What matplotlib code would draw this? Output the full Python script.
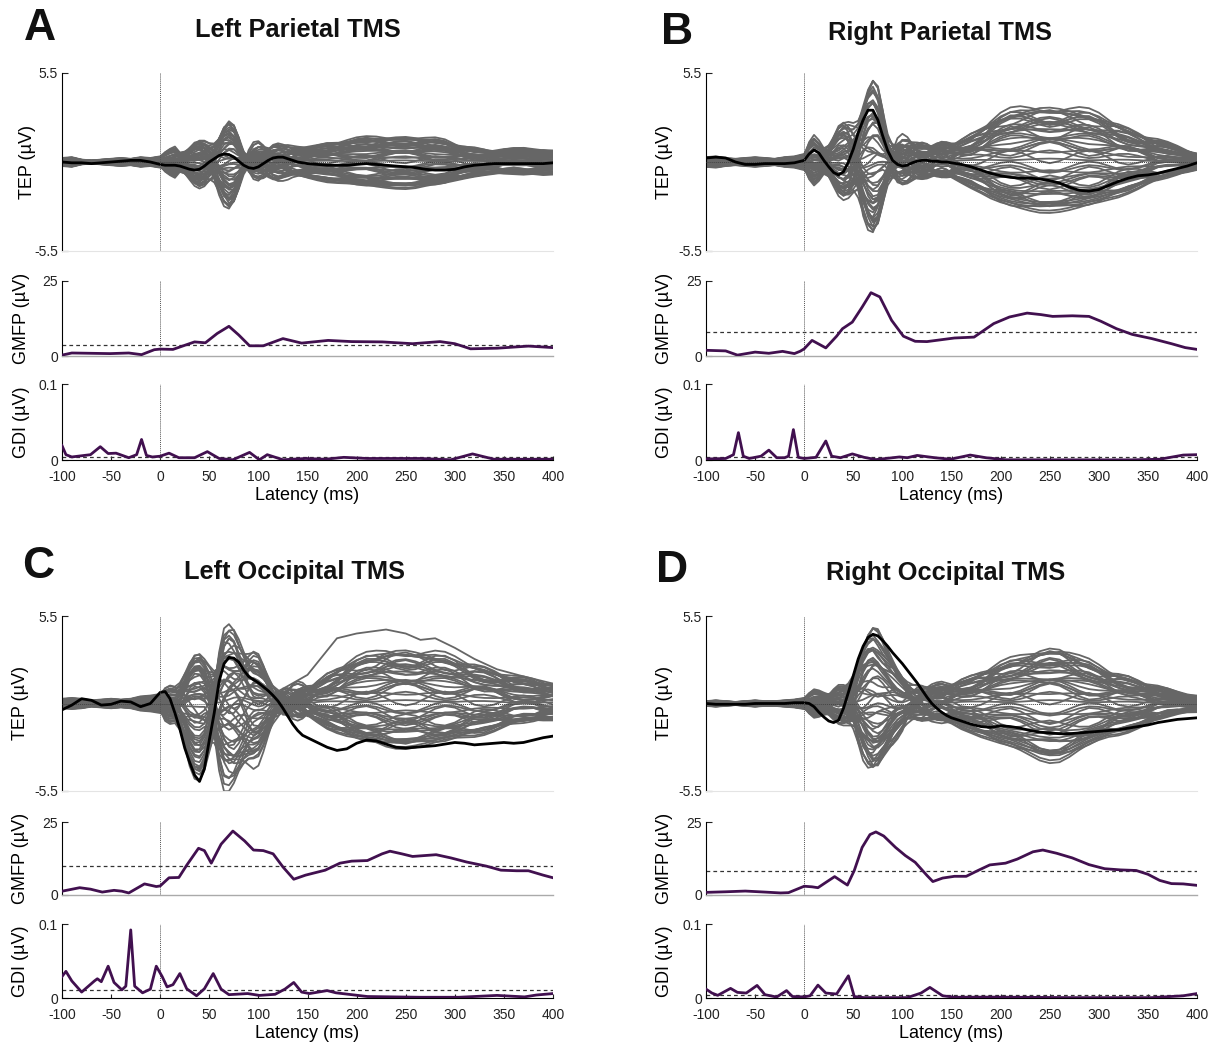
import numpy as np
import matplotlib
matplotlib.use("Agg")
import matplotlib.pyplot as plt

plt.rcParams['font.family'] = ['Liberation Sans', 'DejaVu Sans']

# ---------------- latency sampling of the TEP waveforms (ms) ----------------
LAT = np.r_[-100:1:10, 5:151:5, 160:401:10]   # 11 + 30 + 25 = 66 samples
XTICKS = [-100, -50, 0, 50, 100, 150, 200, 250, 300, 350, 400]
TITLES = ["Left Parietal TMS", "Right Parietal TMS", "Left Occipital TMS", "Right Occipital TMS"]
LETTERS = ["A", "B", "C", "D"]

# ---------------- spatial weights of the 56 butterfly channels ----------------
W_E1 = [1.0, 0.8, 0.6, 0.9, 0.4, 0.7, 0.2, 0.5, 0.3, -0.1, 0.15, -0.3, 0.25, -0.4, 0.35, 0.05, -0.2, -0.5,
        0.45, -0.6, -0.15, -0.7, 0.1, -0.8, -0.35, -0.9, -0.55, -1.0, -0.65, -0.85, 0.55, -0.45, 0.65, -0.25, 0.75, -0.05,
        0.85, -0.75, 0.95, -0.9, 0.5, -0.6, 0.7, -0.3, 0.2, -0.85, 0.9, -0.45, 0.6, -0.7, 0.35, -0.95, 0.75, -0.2, 0.1, -0.5]
W_E2 = [0.9, 1.0, 0.75, 0.5, 0.6, 0.35, 0.85, 0.2, 0.45, 0.3, 0.1, 0.55, -0.2, 0.15, -0.4, -0.05, -0.3, 0.4,
        -0.6, -0.15, -0.5, -0.35, -0.7, -0.55, -0.8, -0.25, -0.9, -0.7, -1.0, -0.45, 0.05, 0.7, -0.85, 0.25, -0.1, -0.95,
        -0.7, 0.8, 0.6, -0.65, 0.95, -0.85, -0.3, 0.9, -0.75, 0.5, 0.2, 0.85, -0.95, 0.65, -0.5, 0.45, 0.8, -0.6, 0.7, -0.8]
W_L = [0.6, 0.9, 1.0, 0.3, 0.8, 0.7, 0.45, 0.55, 0.25, 0.65, 0.4, 0.2, 0.35, 0.5, 0.1, 0.15, -0.1, -0.2,
       -0.3, -0.4, -0.15, 0.05, -0.5, -0.35, -0.6, -0.7, -0.45, -0.8, -0.9, -1.0, -0.55, -0.25, 0.3, 0.85, -0.65, 0.6,
       0.95, -0.85, -0.75, 0.9, -0.6, 0.8, -0.95, 0.75, 0.85, -0.7, 0.45, -0.9, 0.7, 0.95, -0.8, 0.9, -0.4, 0.65, -0.85, 0.75]
W_R = [0.3, -0.2, 0.5, -0.6, 0.8, -0.4, 0.1, 1.0, -0.9, 0.6, -0.3, 0.2, -0.7, 0.4, 0.9, -0.5, 0.7, -0.2,
       0.3, -0.8, 0.5, -0.1, -0.4, 0.6, 0.0, -0.6, 0.8, 0.2, -0.3, 0.4, -1.0, 0.9, -0.6, -0.9, 0.1, -0.1,
       -0.5, 0.3, 0.7, -0.2, -0.8, 0.6, 0.4, -0.7, 0.9, -0.4, 0.5, 0.1, -0.9, 0.2, 0.8, -0.3, 0.6, -0.5, 0.0, 0.7]

# ---------------- Panel A : Left parietal ----------------
A_BLACK = [0.0, -0.05, -0.05, -0.1, -0.05, 0.0, 0.05, 0.1, 0.1, 0.0, -0.15] + \
    [-0.2, -0.2, -0.2, -0.25, -0.35, -0.45, -0.5, -0.45, -0.25, 0.0, 0.2, 0.4, 0.5, 0.45, 0.3, 0.05, -0.2, -0.35, -0.4, -0.3,
     -0.1, 0.1, 0.25, 0.3, 0.3, 0.2, 0.1, 0.0, -0.05, -0.1] + \
    [-0.15, -0.2, -0.2, -0.2, -0.15, -0.1, -0.15, -0.2, -0.25, -0.3, -0.35, -0.45, -0.5, -0.5, -0.45, -0.3, -0.2, -0.15,
     -0.1, -0.1, -0.1, -0.1, -0.1, -0.1, -0.05]
A_E1 = [0] * 11 + [0.3, 0.45, 0.6, 0.4, 0.6, 0.9, 1.2, 1.35, 1.2, 0.8, 0.3, -0.1, -0.3, -0.3, -0.15, 0.0, 0.1, 0.15, 0.1, 0.0] + [0] * 10 + [0] * 25
A_E2 = [0] * 11 + [0] * 8 + [0.1, 0.3, 0.8, 1.6, 2.3, 2.6, 2.3, 1.5, 0.5, -0.2, -0.5, -0.5, -0.3, 0.0, 0.3, 0.45, 0.45, 0.3,
                             0.1, 0.0, -0.05, -0.05] + [0] * 25
A_L = [0] * 11 + [0] * 16 + [0.1, 0.3, 0.5, 0.7, 0.8, 0.85, 0.8, 0.75, 0.7, 0.75, 0.8, 0.85, 0.9, 0.95] + \
    [1.0, 1.1, 1.2, 1.3, 1.4, 1.45, 1.5, 1.5, 1.5, 1.5, 1.5, 1.45, 1.4, 1.3, 1.1, 0.9, 0.75, 0.7, 0.7, 0.7, 0.7, 0.75, 0.75, 0.75, 0.7]
A_R = [0.25, 0.3, 0.15, 0.1, 0.15, 0.2, 0.25, 0.2, 0.3, 0.25, 0.35] + \
    [0.45, 0.55, 0.55, 0.3, 0.1, -0.1, -0.2, -0.1, 0.1, 0.3, 0.4, 0.3, 0.1, -0.1, -0.2, -0.1, 0.1, 0.3, 0.4, 0.3, 0.1, -0.1,
     -0.2, -0.15, 0.0, 0.15, 0.25, 0.2, 0.1, 0.0] + \
    [-0.2, -0.25, -0.1, 0.1, 0.25, 0.3, 0.15, -0.05, -0.2, -0.25, -0.1, 0.1, 0.25, 0.2, 0.0, -0.2, -0.3, -0.2, 0.0, 0.2, 0.3,
     0.25, 0.1, -0.05, -0.1]
A_NEG = [1.2, 1.13, 1.05, 1.0]

A_GMFP_T = [-100, -90, -51, -32, -19, -6, 0, 13, 35, 46, 58, 70, 80, 91, 105, 125, 144, 171, 195, 226, 257, 285, 300, 316, 343, 375, 400]
A_GMFP = [0.3, 1.0, 0.8, 1.0, 0.45, 2.1, 2.3, 2.2, 4.7, 4.4, 7.5, 9.9, 7.0, 3.4, 3.4, 5.8, 4.3, 5.2, 4.8, 4.7, 4.1, 4.8, 4.1, 2.4, 2.6, 3.3, 2.8]
A_GMFP_THR = 3.8
A_GDI_T = [-100, -96, -90, -71, -61, -53, -45, -32, -24, -19, -14, -8, 0, 9, 19, 35, 48, 60, 74, 91, 101, 109, 125, 148,
           168, 187, 211, 265, 296, 318, 340, 400]
A_GDI = [0.019, 0.007, 0.004, 0.007, 0.0175, 0.0085, 0.009, 0.003, 0.007, 0.027, 0.006, 0.004, 0.005, 0.009, 0.003, 0.003,
         0.011, 0.002, 0.0003, 0.010, 0.0003, 0.007, 0.0003, 0.002, 0.001, 0.0035, 0.002, 0.002, 0.0003, 0.008, 0.001, 0.001]
A_GDI_THR = 0.004

# ---------------- Panel B : Right parietal ----------------
B_BLACK = [0.25, 0.3, 0.25, 0.0, -0.15, -0.15, -0.1, -0.1, -0.1, -0.05, 0.1] + \
    [0.5, 0.75, 0.55, 0.1, -0.3, -0.65, -0.8, -0.6, 0.0, 0.8, 1.8, 2.6, 3.2, 3.2, 2.6, 1.6, 0.7, 0.1, -0.15, -0.25,
     -0.2, -0.05, 0.05, 0.1, 0.1, 0.05, 0.05, 0.0, 0.0, -0.05] + \
    [-0.15, -0.3, -0.5, -0.7, -0.85, -0.95, -1.0, -1.0, -1.05, -1.15, -1.3, -1.55, -1.75, -1.8, -1.7, -1.45, -1.2, -1.0,
     -0.85, -0.8, -0.7, -0.55, -0.4, -0.25, -0.05]
B_E1 = [0] * 11 + [0.7, 1.1, 0.9, 0.6, 1.0, 1.6, 2.2, 2.5, 2.3, 1.6, 0.6, -0.1, -0.4, -0.4, -0.2, 0.0, 0.3, 0.5, 0.45, 0.3,
                   0.1, 0.0] + [0] * 8 + [0] * 25
B_E2 = [0] * 11 + [0] * 8 + [0.2, 0.8, 2.0, 3.6, 4.8, 5.3, 4.7, 3.1, 1.3, 0.2, -0.4, -0.6, -0.5, -0.3, -0.1, 0.0] + [0] * 6 + [0] * 25
B_L = [0] * 11 + [0] * 16 + [0.2, 0.5, 0.8, 1.0, 1.1, 1.1, 1.05, 1.0, 1.0, 1.0, 1.0, 1.0, 1.05, 1.1] + \
    [1.3, 1.6, 2.0, 2.5, 2.9, 3.15, 3.3, 3.35, 3.35, 3.3, 3.3, 3.3, 3.25, 3.1, 2.9, 2.6, 2.3, 2.0, 1.75, 1.5, 1.3, 1.1, 0.9, 0.7, 0.5]
B_R = [0.3, 0.35, 0.25, 0.2, 0.25, 0.3, 0.25, 0.2, 0.3, 0.35, 0.5] + \
    [0.8, 0.9, 0.7, 0.4, 0.1, -0.2, -0.4, -0.3, 0.0, 0.3, 0.5, 0.4, 0.1, -0.2, -0.4, -0.3, 0.0, 0.3, 0.5, 0.5, 0.3, 0.0, -0.3,
     -0.4, -0.3, 0.0, 0.3, 0.45, 0.35, 0.1] + \
    [-0.3, -0.45, -0.3, 0.0, 0.3, 0.45, 0.3, 0.0, -0.3, -0.45, -0.3, 0.0, 0.3, 0.45, 0.3, 0.0, -0.3, -0.4, -0.25, 0.0, 0.25,
     0.3, 0.2, 0.0, -0.1]
B_NEG = [0.92, 0.85, 0.9, 1.0]

B_GMFP_T = [-100, -80, -68, -50, -36, -22, -10, -4, 0, 8, 22, 33, 39, 49, 59, 68, 77, 89, 101, 113, 125, 153, 173, 193,
            209, 227, 241, 253, 273, 290, 302, 318, 334, 354, 374, 388, 400]
B_GMFP = [1.9, 1.7, 0.3, 1.3, 0.9, 1.55, 0.8, 1.6, 2.4, 5.2, 2.7, 6.6, 9.1, 11.3, 16.3, 21.1, 19.7, 11.9, 6.6, 4.9, 4.8,
          6.0, 6.3, 10.8, 13.0, 14.3, 13.8, 13.2, 13.4, 13.2, 11.6, 9.1, 7.2, 5.8, 4.1, 2.8, 2.2]
B_GMFP_THR = 8.0
B_GDI_T = [-100, -80, -72, -67, -62, -56, -44, -36, -28, -20, -16, -11, -6, 0, 12, 22, 28, 37, 49, 61, 73, 97, 105, 115,
           133, 149, 169, 185, 205, 273, 334, 362, 386, 400]
B_GDI = [0.0013, 0.002, 0.007, 0.036, 0.005, 0.002, 0.005, 0.013, 0.003, 0.003, 0.005, 0.040, 0.0035, 0.002, 0.0035,
         0.025, 0.005, 0.003, 0.008, 0.0035, 0.0005, 0.004, 0.003, 0.006, 0.003, 0.001, 0.0065, 0.003, 0.0003, 0.0002,
         0.0002, 0.001, 0.0065, 0.007]
B_GDI_THR = 0.004

# ---------------- Panel C : Left occipital ----------------
C_BLACK = [-0.4, -0.1, 0.3, 0.2, -0.1, -0.05, 0.15, 0.1, -0.2, 0.0, 0.7] + \
    [0.75, 0.3, -0.6, -1.6, -2.8, -3.7, -4.5, -4.9, -4.1, -2.3, -0.6, 1.4, 2.5, 2.9, 2.85, 2.6, 2.1, 1.7, 1.5, 1.3,
     1.05, 0.8, 0.5, 0.15, -0.3, -0.8, -1.3, -1.7, -2.0, -2.15] + \
    [-2.45, -2.75, -2.95, -2.85, -2.5, -2.3, -2.35, -2.55, -2.75, -2.8, -2.75, -2.7, -2.65, -2.55, -2.45, -2.5, -2.6,
     -2.55, -2.5, -2.45, -2.5, -2.45, -2.3, -2.15, -2.05]
C_E1 = [0] * 11 + [0.5, 0.6, 0.6, 1.0, 1.8, 2.6, 3.1, 3.2, 2.8, 1.8, 0.5, -0.6, -1.3, -1.5, -1.3, -0.8, -0.3, 0.2, 0.5,
                   0.5, 0.3, 0.1, 0.0] + [0] * 7 + [0] * 25
C_E2 = [0] * 11 + [0] * 9 + [0.5, 1.5, 3.0, 4.0, 4.2, 4.1, 3.7, 3.3, 3.0, 2.9, 2.7, 2.2, 1.6, 0.9, 0.3, -0.2, -0.4, -0.4,
                             -0.3, -0.15, 0.0] + [0] * 25
C_L = [0] * 11 + [0] * 22 + [0.1, 0.3, 0.5, 0.6, 0.7, 0.8, 0.9, 1.0] + \
    [1.3, 1.7, 2.1, 2.5, 2.8, 3.0, 3.15, 3.3, 3.3, 3.25, 3.2, 3.2, 3.15, 3.0, 2.8, 2.6, 2.4, 2.2, 2.0, 1.8, 1.6, 1.5, 1.4, 1.3, 1.2]
C_R = [0.3, 0.35, 0.3, 0.2, 0.25, 0.3, 0.25, 0.3, 0.45, 0.5, 0.6] + \
    [0.7, 0.8, 0.7, 0.5, 0.2, -0.2, -0.4, -0.3, 0.0, 0.4, 0.6, 0.5, 0.2, -0.2, -0.5, -0.5, -0.2, 0.2, 0.5, 0.6, 0.4, 0.0,
     -0.3, -0.5, -0.4, -0.1, 0.3, 0.5, 0.45, 0.2] + \
    [-0.3, -0.5, -0.35, 0.0, 0.35, 0.5, 0.35, 0.0, -0.35, -0.5, -0.35, 0.0, 0.35, 0.5, 0.35, 0.0, -0.35, -0.45, -0.3, 0.0,
     0.3, 0.4, 0.3, 0.0, -0.2]
C_NEG = [1.5, 1.2, 0.82, 1.0]
C_OUT_T = [-100, -60, -20, 0, 10, 25, 40, 55, 70, 85, 100, 115, 130, 150, 180, 200, 230, 250, 265, 280, 300, 320, 343, 367, 400]
C_OUT = [0.2, 0.1, 0.3, 0.4, 0.6, 0.5, -0.8, -1.5, 1.0, 2.0, 1.2, 0.6, 1.1, 1.8, 4.1, 4.4, 4.65, 4.4, 4.0, 4.1, 3.5, 2.8,
         2.15, 1.75, 1.25]

C_GMFP_T = [-100, -82, -71, -59, -47, -39, -32, -16, -4, 0, 9, 19, 27, 39, 45, 52, 62, 74, 86, 95, 105, 115, 125, 136,
            148, 168, 183, 195, 211, 226, 234, 246, 257, 269, 281, 296, 312, 332, 347, 363, 375, 390, 400]
C_GMFP = [1.3, 2.5, 2.0, 1.0, 1.6, 1.3, 0.7, 3.8, 2.9, 3.1, 5.9, 6.0, 10.2, 16.0, 15.2, 10.9, 17.4, 21.9, 18.5, 15.4,
          15.2, 14.1, 9.6, 5.4, 6.8, 8.5, 10.9, 11.6, 11.8, 14.1, 15.0, 14.1, 13.2, 13.5, 13.8, 12.7, 11.3, 9.9, 8.5, 8.3,
          8.3, 6.8, 5.9]
C_GMFP_THR = 9.9
C_GDI_T = [-100, -96, -90, -80, -67, -64, -60, -53, -47, -39, -35, -30, -26, -18, -10, -4, 2, 7, 13, 20, 27, 37, 45, 54,
           62, 70, 89, 101, 117, 127, 136, 144, 152, 170, 179, 195, 211, 265, 304, 343, 371, 383, 400]
C_GDI = [0.029, 0.036, 0.023, 0.008, 0.023, 0.026, 0.022, 0.043, 0.021, 0.011, 0.016, 0.092, 0.016, 0.007, 0.012, 0.043,
         0.029, 0.015, 0.018, 0.033, 0.0125, 0.003, 0.0125, 0.033, 0.012, 0.0045, 0.006, 0.0035, 0.005, 0.012, 0.021,
         0.008, 0.006, 0.010, 0.007, 0.0045, 0.002, 0.001, 0.001, 0.0035, 0.0015, 0.004, 0.006]
C_GDI_THR = 0.011

# ---------------- Panel D : Right occipital ----------------
D_BLACK = [0.0, -0.05, -0.05, -0.05, -0.05, 0.0, 0.0, 0.0, 0.0, 0.05, 0.05] + \
    [0.0, -0.2, -0.55, -0.85, -1.1, -1.2, -1.05, -0.3, 0.7, 1.75, 2.8, 3.6, 4.15, 4.35, 4.25, 3.95, 3.6, 3.2, 2.85, 2.5,
     2.1, 1.7, 1.3, 0.85, 0.4, 0.0, -0.3, -0.55, -0.75, -0.9] + \
    [-1.1, -1.3, -1.45, -1.5, -1.4, -1.45, -1.55, -1.7, -1.8, -1.85, -1.9, -1.9, -1.85, -1.8, -1.75, -1.7, -1.65, -1.55,
     -1.45, -1.35, -1.2, -1.1, -1.0, -0.95, -0.9]
D_E1 = [0] * 11 + [0.3, 0.5, 0.5, 0.5, 0.6, 0.8, 1.0, 1.1, 1.0, 0.6, 0.1, -0.3, -0.4, -0.3, -0.1, 0.0] + [0] * 14 + [0] * 25
D_E2 = [0] * 11 + [0] * 8 + [0.3, 1.2, 2.6, 3.8, 4.6, 4.9, 4.6, 4.0, 3.4, 2.8, 2.2, 1.7, 1.2, 0.8, 0.5, 0.3, 0.2, 0.15,
                             0.1, 0.1, 0.05, 0.0] + [0] * 25
D_L = [0] * 11 + [0] * 20 + [0.2, 0.4, 0.6, 0.8, 0.9, 1.0, 1.05, 1.1, 1.15, 1.2] + \
    [1.4, 1.6, 1.9, 2.2, 2.5, 2.7, 2.9, 3.1, 3.3, 3.4, 3.4, 3.2, 2.9, 2.6, 2.3, 2.0, 1.8, 1.6, 1.4, 1.2, 1.0, 0.8, 0.65, 0.55, 0.5]
D_R = [0.15, 0.2, 0.15, 0.1, 0.15, 0.2, 0.15, 0.15, 0.2, 0.25, 0.35] + \
    [0.5, 0.6, 0.5, 0.3, 0.0, -0.3, -0.45, -0.3, 0.0, 0.3, 0.45, 0.3, 0.0, -0.3, -0.45, -0.3, 0.0, 0.3, 0.45, 0.35, 0.1,
     -0.2, -0.4, -0.35, -0.1, 0.2, 0.4, 0.4, 0.2, 0.0] + \
    [-0.35, -0.45, -0.3, 0.0, 0.3, 0.45, 0.3, 0.0, -0.3, -0.45, -0.3, 0.0, 0.3, 0.45, 0.3, 0.0, -0.3, -0.4, -0.25, 0.0,
     0.25, 0.3, 0.2, 0.05, -0.05]
D_NEG = [1.2, 0.87, 1.05, 1.0]

D_GMFP_T = [-100, -80, -60, -40, -24, -16, -8, 0, 8, 14, 22, 31, 39, 44, 51, 59, 67, 73, 81, 93, 103, 113, 125, 131, 141,
            153, 165, 177, 189, 205, 217, 233, 243, 257, 273, 290, 306, 322, 338, 350, 362, 374, 386, 400]
D_GMFP = [0.9, 1.1, 1.35, 1.0, 0.7, 0.8, 1.9, 3.0, 2.8, 2.5, 4.3, 6.3, 4.5, 3.4, 8.4, 16.3, 20.7, 21.6, 20.2, 16.3, 13.5,
          11.2, 6.7, 4.6, 5.8, 6.4, 6.4, 8.4, 10.3, 10.9, 12.3, 14.8, 15.4, 14.3, 12.7, 10.4, 9.0, 8.6, 8.4, 7.1, 5.0, 3.9,
          3.8, 3.3]
D_GMFP_THR = 8.2
D_GDI_T = [-100, -94, -88, -75, -68, -59, -48, -40, -28, -18, -12, 0, 6, 14, 22, 33, 45, 51, 61, 105, 119, 128, 141, 153,
           193, 273, 354, 386, 400]
D_GDI = [0.012, 0.0067, 0.0036, 0.013, 0.0076, 0.0067, 0.017, 0.0045, 0.0013, 0.010, 0.002, 0.0015, 0.003, 0.0174,
         0.0067, 0.0054, 0.030, 0.002, 0.0005, 0.0005, 0.0067, 0.0143, 0.003, 0.001, 0.0012, 0.0005, 0.0005, 0.003, 0.006]
D_GDI_THR = 0.0045

# ---------------- styling ----------------
GRAY = '#666666'
PURPLE = '#41104f'
W_PX, H_PX = 1218, 1046

fig = plt.figure(figsize=(W_PX / 100, H_PX / 100), dpi=100)


def rect(x0, y0, x1, y1):
    return [x0 / W_PX, 1 - y1 / H_PX, (x1 - x0) / W_PX, (y1 - y0) / H_PX]


def channels(comps, neg):
    W = np.array([W_E1, W_E2, W_L, W_R], dtype=float)
    W = np.where(W < 0, W * np.array(neg)[:, None], W)
    return W.T @ np.array(comps, dtype=float)


def style_left(ax, ticks, labels):
    for s in ['top', 'right']:
        ax.spines[s].set_visible(False)
    ax.spines['left'].set_linewidth(0.8)
    ax.set_yticks(ticks)
    ax.set_yticklabels(labels)
    ax.tick_params(axis='y', direction='in', length=4, width=0.8, labelsize=10, pad=3, colors='#222222')
    ax.set_xlim(-100, 400)


panels = [
    dict(x0=62, x1=553, top=(73, 251, 281, 356, 384, 460), comps=[A_E1, A_E2, A_L, A_R], neg=A_NEG, black=A_BLACK,
         gt=A_GMFP_T, g=A_GMFP, gthr=A_GMFP_THR, dt=A_GDI_T, d=A_GDI, dthr=A_GDI_THR, extra=None,
         lab=(-0.052, -0.066, -0.066), title=(298, 30), letter=(40, 28)),
    dict(x0=706, x1=1197, top=(73, 251, 281, 356, 384, 460), comps=[B_E1, B_E2, B_L, B_R], neg=B_NEG, black=B_BLACK,
         gt=B_GMFP_T, g=B_GMFP, gthr=B_GMFP_THR, dt=B_GDI_T, d=B_GDI, dthr=B_GDI_THR, extra=None,
         lab=(-0.068, -0.068, -0.068), title=(940, 33), letter=(677, 32)),
    dict(x0=62, x1=553, top=(616, 791, 822, 895, 924, 998), comps=[C_E1, C_E2, C_L, C_R], neg=C_NEG, black=C_BLACK,
         gt=C_GMFP_T, g=C_GMFP, gthr=C_GMFP_THR, dt=C_GDI_T, d=C_GDI, dthr=C_GDI_THR, extra=(C_OUT_T, C_OUT),
         lab=(-0.068, -0.068, -0.068), title=(294, 572), letter=(38, 567)),
    dict(x0=706, x1=1197, top=(616, 791, 822, 895, 924, 998), comps=[D_E1, D_E2, D_L, D_R], neg=D_NEG, black=D_BLACK,
         gt=D_GMFP_T, g=D_GMFP, gthr=D_GMFP_THR, dt=D_GDI_T, d=D_GDI, dthr=D_GDI_THR, extra=None,
         lab=(-0.068, -0.068, -0.068), title=(946, 573), letter=(672, 571)),
]

for i, p in enumerate(panels):
    y = p['top']
    # ---- TEP butterfly ----
    ax1 = fig.add_axes(rect(p['x0'], y[0], p['x1'], y[1]))
    chans = channels(p['comps'], p['neg'])
    for ch in chans:
        ax1.plot(LAT, ch, color=GRAY, lw=1.3, solid_joinstyle='round')
    if p['extra'] is not None:
        ax1.plot(p['extra'][0], p['extra'][1], color=GRAY, lw=1.3)
    ax1.axhline(0, color='#444444', lw=0.7, ls=(0, (1, 1)), zorder=3)
    ax1.plot(LAT, p['black'], color='black', lw=2.0, zorder=4, solid_joinstyle='round')
    ax1.axvline(0, color='#555555', lw=0.7, ls=(0, (1, 1)), zorder=5)
    ax1.set_ylim(-5.5, 5.5)
    style_left(ax1, [-5.5, 5.5], ['-5.5', '5.5'])
    ax1.spines['bottom'].set_color('#e4e4e4')
    ax1.set_xticks([])
    ax1.set_ylabel('TEP (µV)', fontsize=13)
    ax1.yaxis.set_label_coords(p['lab'][0], 0.5)

    # ---- GMFP ----
    ax2 = fig.add_axes(rect(p['x0'], y[2], p['x1'], y[3]))
    ax2.axhline(p['gthr'], color='#333333', lw=0.9, ls=(0, (3, 2.5)))
    ax2.plot(p['gt'], p['g'], color=PURPLE, lw=2.0, solid_joinstyle='round', zorder=4)
    ax2.axvline(0, color='#555555', lw=0.7, ls=(0, (1, 1)))
    ax2.set_ylim(0, 25)
    style_left(ax2, [0, 25], ['0', '25'])
    ax2.spines['bottom'].set_color('#aaaaaa')
    ax2.spines['bottom'].set_linewidth(1.0)
    ax2.set_xticks([])
    ax2.set_ylabel('GMFP (µV)', fontsize=13)
    ax2.yaxis.set_label_coords(p['lab'][1], 0.5)

    # ---- GDI ----
    ax3 = fig.add_axes(rect(p['x0'], y[4], p['x1'], y[5]))
    ax3.axhline(p['dthr'], color='#333333', lw=0.9, ls=(0, (3, 2.5)))
    ax3.plot(p['dt'], p['d'], color=PURPLE, lw=2.0, solid_joinstyle='round', zorder=4)
    ax3.axvline(0, color='#555555', lw=0.7, ls=(0, (1, 1)))
    ax3.set_ylim(0, 0.1)
    style_left(ax3, [0, 0.1], ['0', '0.1'])
    ax3.spines['bottom'].set_linewidth(0.8)
    ax3.set_xticks(XTICKS)
    ax3.set_xticklabels([str(t) for t in XTICKS])
    ax3.tick_params(axis='x', direction='in', length=3, width=0.8, labelsize=10, pad=7, colors='#222222')
    ax3.set_ylabel('GDI (µV)', fontsize=13)
    ax3.yaxis.set_label_coords(p['lab'][2], 0.5)
    ax3.set_xlabel('Latency (ms)', fontsize=13, labelpad=2)

    fig.text(p['title'][0] / W_PX, 1 - p['title'][1] / H_PX, TITLES[i], fontsize=18.3, fontweight='bold',
             ha='center', va='center', color='#111111')
    fig.text(p['letter'][0] / W_PX, 1 - p['letter'][1] / H_PX, LETTERS[i], fontsize=32, fontweight='bold',
             ha='center', va='center', color='#111111')

fig.savefig('out.png', dpi=100)
